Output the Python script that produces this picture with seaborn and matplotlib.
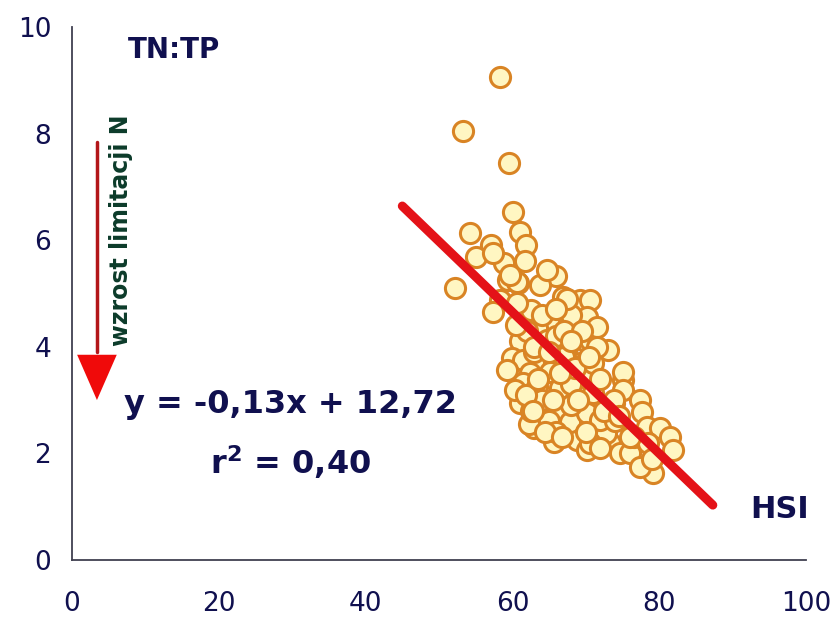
import matplotlib
matplotlib.use("Agg")
import matplotlib.pyplot as plt
import numpy as np
import pandas as pd
import seaborn as sns

# HSI vs TN:TP
hsi = [58.3, 53.3, 59.5, 60.1, 61.1, 54.2, 57.1, 61.9, 55.1, 58.9,
       61.7, 64.9, 66.0, 59.4, 60.8, 63.8, 52.2, 66.9, 69.2, 70.6,
       57.4, 64.7, 60.6, 59.7, 58.3, 57.4, 62.6, 60.6, 66.7, 65.1,
       63.3, 69.2, 69.7, 61.0, 67.4, 64.7, 59.9, 61.5, 63.8, 65.6,
       59.2, 69.2, 62.4, 61.5, 65.1, 63.3, 66.5, 61.0, 63.5, 62.9,
       67.2, 69.2, 66.5, 70.6, 68.8, 65.6, 72.4, 73.3, 74.7, 70.1,
       75.1, 73.8, 71.0, 69.2, 60.4, 62.2, 67.8, 70.6, 75.1, 75.1,
       77.4, 77.6, 78.3, 80.1, 81.5, 81.9, 76.0, 79.2, 77.4, 72.8,
       70.6, 70.1, 71.9, 73.0, 70.1, 71.5, 69.7, 73.8, 62.0, 64.0,
       66.0, 68.0, 67.0, 68.0, 64.0, 65.0, 68.0, 66.0, 63.0, 67.5,
       71.0, 72.0, 65.5, 62.5, 69.0, 74.0, 76.5, 78.5, 64.5, 61.8,
       63.0, 65.0, 67.0, 69.5, 71.5, 66.0, 68.5, 70.5, 72.5, 74.5,
       63.5, 66.5, 68.0, 70.0, 76.0, 79.0, 60.5, 62.8, 66.8, 72.0]
tn_tp = [9.07, 8.04, 7.45, 6.53, 6.16, 6.13, 5.91, 5.91, 5.69, 5.57,
         5.60, 5.41, 5.32, 5.25, 5.19, 5.16, 5.10, 4.94, 4.88, 4.88,
         5.76, 5.44, 5.22, 5.35, 4.88, 4.66, 4.69, 4.82, 4.53, 4.41,
         4.35, 4.44, 4.13, 4.10, 4.00, 4.13, 3.78, 3.75, 3.69, 3.69,
         3.56, 3.69, 3.50, 3.32, 3.53, 3.25, 3.22, 2.94, 2.69, 2.47,
         2.44, 2.78, 2.81, 2.56, 2.25, 2.22, 2.44, 2.19, 2.00, 2.06,
         3.38, 2.94, 3.13, 3.63, 3.19, 2.56, 2.59, 4.13, 3.53, 3.19,
         3.00, 2.78, 2.50, 2.47, 2.31, 2.06, 2.00, 1.63, 1.75, 2.38,
         2.19, 2.75, 2.63, 3.94, 4.56, 4.38, 3.44, 3.00, 4.30, 4.60,
         4.20, 4.60, 3.80, 3.30, 3.00, 2.60, 2.90, 2.40, 3.90, 4.90,
         3.70, 3.40, 3.00, 2.80, 3.00, 2.60, 2.30, 2.20, 2.40, 3.10,
         4.00, 3.90, 4.30, 4.30, 4.00, 4.70, 3.60, 3.80, 2.80, 2.70,
         3.40, 3.50, 4.10, 2.40, 2.30, 1.90, 4.40, 2.80, 2.30, 2.10]

# fitted line as drawn: y = -0,13x + 12,72
fit_x = [45.0, 87.3]
fit_y = [6.64, 1.03]

xticks = [0, 20, 40, 60, 80, 100]
yticks = [0, 2, 4, 6, 8, 10]

navy = "#10104f"

sns.set_style("white")
plt.rcParams["font.family"] = ["DejaVu Sans"]

fig = plt.figure(figsize=(8.37, 6.22), dpi=100)
ax = fig.add_axes([0.086, 0.0997, 0.877, 0.857])

df = pd.DataFrame({"HSI": hsi, "TN:TP": tn_tp})
sns.scatterplot(data=df, x="HSI", y="TN:TP", ax=ax, s=210,
                facecolor="#fff6c2", edgecolor="#d98424", linewidth=2.2,
                zorder=2, legend=False)
ax.plot(fit_x, fit_y, color="#e41218", lw=6.5, solid_capstyle="round", zorder=3)

ax.set_xlim(0, 100)
ax.set_ylim(0, 10)
ax.set_xticks(xticks)
ax.set_yticks(yticks)
ax.set_xlabel("")
ax.set_ylabel("")
sns.despine(ax=ax)
for sp in ["left", "bottom"]:
    ax.spines[sp].set_color("#404050")
    ax.spines[sp].set_linewidth(1.3)
ax.tick_params(axis="both", direction="out", length=8, width=1.2,
               color="#404050", labelsize=19, labelcolor=navy, pad=7)
ax.tick_params(axis="x", pad=14)

# annotations
ax.text(7.6, 9.57, "TN:TP", fontsize=20, fontweight="bold", color=navy,
        ha="left", va="center")
ax.text(29.8, 2.91, "y = -0,13x + 12,72", fontsize=23, fontweight="bold",
        color=navy, ha="center", va="center")
ax.text(29.8, 1.84, "r$^\\mathbf{2}$ = 0,40", fontsize=23, fontweight="bold",
        color=navy, ha="center", va="center")
ax.text(96.4, 0.94, "HSI", fontsize=22, fontweight="bold", color=navy,
        ha="center", va="center")
ax.text(6.7, 6.19, "wzrost limitacji N", fontsize=17, fontweight="bold",
        color="#0c3b2a", rotation=90, ha="center", va="center")

# arrow
ax.plot([3.4, 3.4], [7.84, 3.9], color="#b3161a", lw=2.5, clip_on=False)
ax.fill([0.7, 6.1, 3.4], [3.85, 3.85, 3.0], color="#f00a0a", lw=0)

fig.savefig("out.png", dpi=100)
